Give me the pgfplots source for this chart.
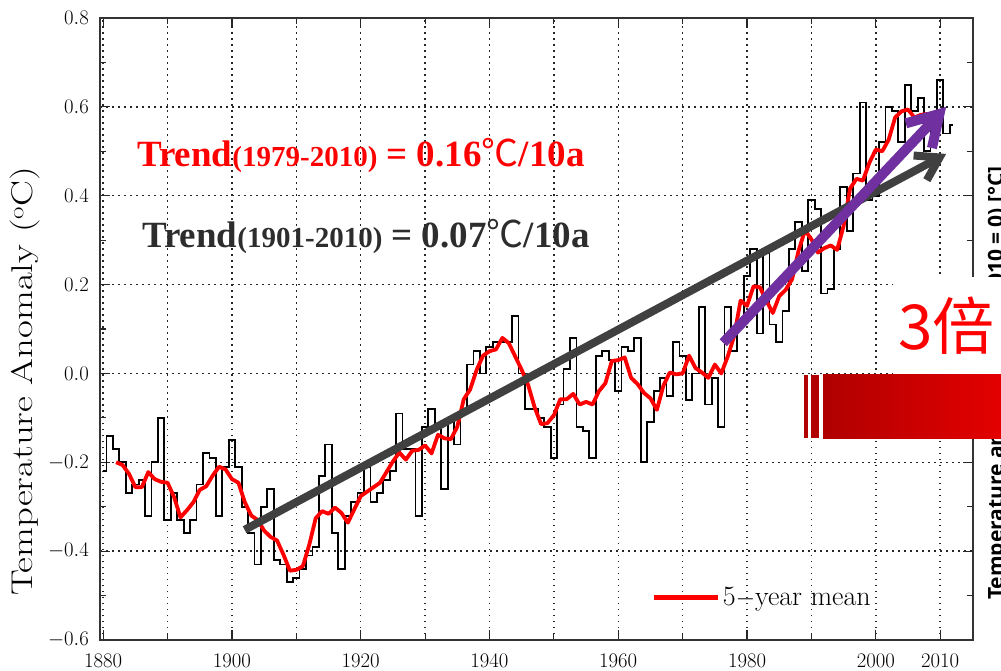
\documentclass[border=0pt]{standalone}
\usepackage{fontspec}
\usepackage{pgfplots}
\usepackage{pgfplotstable}
\pgfplotsset{compat=1.18}
\usetikzlibrary{arrows.meta}
\newfontfamily\timesfont{Liberation Serif}
\newfontfamily\cjk{Noto Sans CJK SC}
\newfontfamily\sansfont{Open Sans}
\definecolor{trendgray}{RGB}{64,64,64}
\definecolor{trendpurple}{RGB}{112,48,160}
\definecolor{textgray}{RGB}{45,45,45}
\definecolor{barleft}{RGB}{176,0,0}
\definecolor{barright}{RGB}{230,0,0}

\pgfplotstableread{
year val
1880 -0.22
1881 -0.14
1882 -0.17
1883 -0.20
1884 -0.27
1885 -0.25
1886 -0.24
1887 -0.32
1888 -0.20
1889 -0.10
1890 -0.33
1891 -0.27
1892 -0.33
1893 -0.36
1894 -0.33
1895 -0.25
1896 -0.18
1897 -0.19
1898 -0.32
1899 -0.21
1900 -0.15
1901 -0.21
1902 -0.30
1903 -0.36
1904 -0.43
1905 -0.30
1906 -0.26
1907 -0.42
1908 -0.43
1909 -0.47
1910 -0.46
1911 -0.44
1912 -0.41
1913 -0.39
1914 -0.23
1915 -0.16
1916 -0.36
1917 -0.44
1918 -0.32
1919 -0.29
1920 -0.27
1921 -0.21
1922 -0.29
1923 -0.27
1924 -0.24
1925 -0.22
1926 -0.09
1927 -0.17
1928 -0.17
1929 -0.32
1930 -0.12
1931 -0.08
1932 -0.12
1933 -0.26
1934 -0.11
1935 -0.16
1936 -0.09
1937 0.02
1938 0.05
1939 0.00
1940 0.06
1941 0.07
1942 0.07
1943 0.07
1944 0.13
1945 0.00
1946 -0.08
1947 -0.08
1948 -0.10
1949 -0.12
1950 -0.19
1951 -0.07
1952 0.01
1953 0.08
1954 -0.12
1955 -0.13
1956 -0.19
1957 0.04
1958 0.05
1959 0.03
1960 -0.04
1961 0.06
1962 0.05
1963 0.08
1964 -0.20
1965 -0.11
1966 -0.04
1967 -0.01
1968 -0.05
1969 0.07
1970 0.04
1971 -0.06
1972 0.00
1973 0.15
1974 -0.07
1975 -0.01
1976 -0.12
1977 0.15
1978 0.05
1979 0.12
1980 0.22
1981 0.28
1982 0.09
1983 0.27
1984 0.11
1985 0.07
1986 0.14
1987 0.28
1988 0.34
1989 0.23
1990 0.39
1991 0.37
1992 0.18
1993 0.19
1994 0.28
1995 0.42
1996 0.32
1997 0.45
1998 0.61
1999 0.39
2000 0.40
2001 0.52
2002 0.60
2003 0.59
2004 0.52
2005 0.65
2006 0.59
2007 0.62
2008 0.50
2009 0.55
2010 0.66
2011 0.54
2012 0.56
}\annual

\pgfplotstableread{
year val
1882 -0.200
1883 -0.206
1884 -0.226
1885 -0.256
1886 -0.256
1887 -0.222
1888 -0.238
1889 -0.244
1890 -0.246
1891 -0.278
1892 -0.324
1893 -0.308
1894 -0.290
1895 -0.262
1896 -0.254
1897 -0.230
1898 -0.210
1899 -0.216
1900 -0.238
1901 -0.246
1902 -0.290
1903 -0.320
1904 -0.330
1905 -0.354
1906 -0.368
1907 -0.376
1908 -0.408
1909 -0.444
1910 -0.442
1911 -0.434
1912 -0.386
1913 -0.326
1914 -0.310
1915 -0.316
1916 -0.302
1917 -0.314
1918 -0.336
1919 -0.306
1920 -0.276
1921 -0.266
1922 -0.256
1923 -0.246
1924 -0.222
1925 -0.198
1926 -0.178
1927 -0.194
1928 -0.174
1929 -0.172
1930 -0.162
1931 -0.180
1932 -0.138
1933 -0.146
1934 -0.148
1935 -0.120
1936 -0.058
1937 -0.036
1938 0.008
1939 0.040
1940 0.050
1941 0.054
1942 0.080
1943 0.068
1944 0.038
1945 0.008
1946 -0.026
1947 -0.076
1948 -0.114
1949 -0.112
1950 -0.094
1951 -0.058
1952 -0.058
1953 -0.046
1954 -0.070
1955 -0.064
1956 -0.070
1957 -0.040
1958 -0.022
1959 0.028
1960 0.030
1961 0.036
1962 -0.010
1963 -0.024
1964 -0.044
1965 -0.056
1966 -0.082
1967 -0.028
1968 0.002
1969 -0.002
1970 0.000
1971 0.040
1972 0.012
1973 0.002
1974 -0.010
1975 0.020
1976 0.000
1977 0.038
1978 0.084
1979 0.164
1980 0.152
1981 0.196
1982 0.194
1983 0.164
1984 0.136
1985 0.174
1986 0.188
1987 0.212
1988 0.276
1989 0.322
1990 0.302
1991 0.272
1992 0.282
1993 0.288
1994 0.278
1995 0.332
1996 0.416
1997 0.438
1998 0.434
1999 0.474
2000 0.504
2001 0.500
2002 0.526
2003 0.576
2004 0.590
2005 0.594
2006 0.576
2007 0.582
2008 0.584
2009 0.574
2010 0.562
}\fivemean

\begin{document}
\begin{tikzpicture}
\begin{axis}[
  at={(100pt,30pt)}, anchor=south west,
  scale only axis, width=873pt, height=622pt,
  xmin=1879.5, xmax=2015.1, ymin=-0.6, ymax=0.8,
  xtick={1880,1900,1920,1940,1960,1980,2000,2010},
  minor xtick={1890,1910,1930,1950,1970,1990},
  ytick={-0.6,-0.4,-0.2,0,0.2,0.4,0.6,0.8},
  minor ytick={-0.5,-0.3,-0.1,0.1,0.3,0.5,0.7},
  xticklabel style={/pgf/number format/.cd, 1000 sep={}, /tikz/.cd, inner sep=0pt, yshift=-14pt},
  yticklabel style={/pgf/number format/.cd, fixed, fixed zerofill, precision=1, /tikz/.cd, inner sep=0pt, xshift=-11pt},
  tick label style={font=\fontsize{22}{26}\selectfont},
  xmajorgrids, xminorgrids, ymajorgrids,
  major grid style={black!85, line width=1.5pt, dash pattern=on 1.5pt off 4.5pt},
  minor grid style={black!85, line width=1.5pt, dash pattern=on 1.5pt off 4.5pt},
  tick align=inside,
  major tick length=10pt, minor tick length=6pt,
  every tick/.style={black!85, line width=1.2pt},
  axis line style={black!80, line width=1.2pt},
  ylabel={\scalebox{1.29}[1]{Temperature Anomaly ($^{\mathrm{o}}$C)}},
  every axis y label/.style={at={(axis description cs:-0.0859,0.416)}, rotate=90, anchor=center, font=\fontsize{30}{33}\selectfont},
  legend style={at={(axis description cs:0.632,0.069)}, anchor=west, draw=none, fill=none, inner sep=0pt, font=\fontsize{28}{31}\selectfont},
  legend image code/.code={\draw[red, line width=5pt] (0pt,0pt) -- (64pt,0pt);},
]
\addplot[const plot mark mid, black, line width=1.8pt, forget plot] table[x=year,y=val]{\annual};
\addplot[red, line width=3.8pt, line join=round] table[x=year,y=val]{\fivemean};
\addlegendentry{5$-$year mean}
\addplot[trendgray, line width=8pt, -{Straight Barb[length=22pt,width=28pt]}, forget plot] coordinates {(1901.97,-0.352) (2010.93,0.494)};
\addplot[trendpurple, line width=10pt, -{Straight Barb[length=30pt,width=36pt]}, forget plot] coordinates {(1976.3,0.069) (2010.93,0.600)};
\end{axis}

% trend labels
\node[anchor=base west, inner sep=0pt, text=red, font=\timesfont\bfseries] at (137pt,503pt)
  {\fontsize{37}{40}\selectfont Trend\fontsize{29}{32}\selectfont(1979-2010)\fontsize{37}{40}\selectfont{} = 0.16{\cjk\mdseries ℃}/10a};
\node[anchor=base west, inner sep=0pt, text=textgray, font=\timesfont\bfseries] at (142pt,422pt)
  {\fontsize{37}{40}\selectfont Trend\fontsize{29}{32}\selectfont(1901-2010)\fontsize{37}{40}\selectfont{} = 0.07{\cjk\mdseries ℃}/10a};

% background chart fragments on the right
\node[rotate=90, anchor=base west, inner sep=0pt, font=\sansfont\bfseries\fontsize{21}{24}\selectfont] at (1003pt,70pt) {Temperature anomaly};
\node[rotate=90, anchor=base east, inner sep=0pt, font=\sansfont\bfseries\fontsize{21}{24}\selectfont] at (1003pt,504pt) {(1981–2010 = 0) [°C]};

\fill[white] (893pt,295pt) rectangle (1010pt,393pt);
\fill[barleft] (804pt,232pt) rectangle (808pt,295pt);
\fill[barleft] (811pt,232pt) rectangle (819pt,295pt);
\shade[left color=barleft, right color=barright] (823pt,232pt) rectangle (1010pt,295pt);

\node[anchor=base west, inner sep=0pt, text=red, font=\cjk\fontsize{62}{64}\selectfont] at (898pt,320pt) {3倍};

\pgfresetboundingbox
\path[use as bounding box] (0pt,0pt) rectangle (1001pt,670pt);
\end{tikzpicture}
\end{document}
